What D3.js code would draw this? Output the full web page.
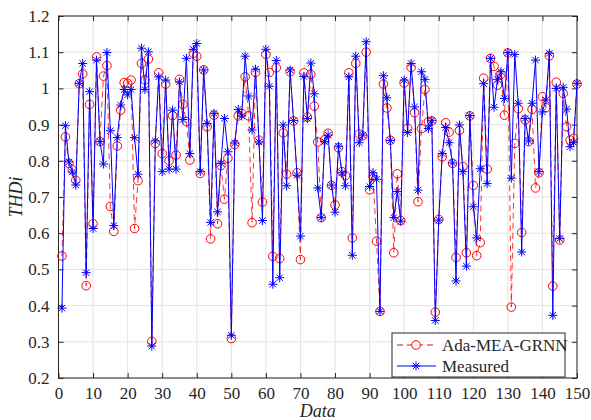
<!DOCTYPE html>
<html>
<head>
<meta charset="utf-8">
<script src="https://cdn.jsdelivr.net/npm/d3@7"></script>
<style>
    body { margin: 0; background: #fff; }
    text { font-family: "Liberation Serif", "Times New Roman", serif; fill: #262626; }
</style>
</head>
<body>
<svg id="chart" width="591" height="420"></svg>
<script>
//=================== DATA ====================================
var seriesNames = ["Ada-MEA-GRNN", "Measured"];

var predicted = [0.537, 0.866, 0.793, 0.775, 0.746, 1.013, 1.040, 0.455, 0.956, 0.626,
    1.087, 0.853, 1.034, 1.063, 0.674, 0.605, 0.841, 0.940, 1.016, 1.014,
    1.023, 0.613, 0.745, 1.069, 1.023, 1.081, 0.301, 0.848, 1.043, 0.820,
    1.012, 0.800, 0.925, 0.816, 1.025, 0.956, 0.908, 0.802, 1.097, 1.089,
    0.765, 1.051, 0.894, 0.584, 0.926, 0.626, 0.787, 0.694, 0.807, 0.309,
    0.845, 0.924, 0.931, 1.032, 0.924, 0.629, 1.044, 0.857, 0.686, 1.094,
    1.044, 0.536, 1.057, 0.530, 0.877, 0.763, 1.046, 0.910, 0.767, 0.527,
    1.043, 0.921, 1.039, 0.951, 0.852, 0.643, 0.858, 0.876, 0.732, 0.678,
    0.836, 0.770, 0.759, 1.043, 0.587, 1.069, 0.874, 0.869, 1.100, 0.720,
    0.758, 0.578, 0.384, 1.012, 0.946, 0.857, 0.546, 0.764, 0.635, 1.015,
    0.890, 1.058, 0.933, 0.687, 0.889, 0.997, 0.908, 0.910, 0.382, 0.638,
    0.811, 0.905, 0.879, 0.793, 0.533, 0.884, 0.784, 0.546, 0.924, 0.732,
    0.538, 0.574, 1.028, 0.777, 1.083, 1.061, 1.009, 1.039, 0.926, 1.098,
    0.396, 0.848, 0.944, 0.602, 0.913, 0.853, 0.942, 0.725, 0.767, 0.977,
    0.947, 1.090, 0.454, 1.017, 0.581, 0.986, 0.894, 0.857, 0.862, 1.012];

var measured = [0.393, 0.897, 0.797, 0.769, 0.733, 1.014, 1.069, 0.491, 0.991, 0.613,
    1.078, 0.853, 0.791, 1.099, 0.883, 0.621, 0.864, 0.954, 0.997, 0.982,
    0.997, 0.864, 0.763, 1.111, 0.997, 1.101, 0.288, 0.855, 1.032, 0.770,
    1.023, 0.777, 0.940, 0.777, 1.018, 0.914, 1.083, 0.820, 1.108, 1.124,
    0.770, 1.051, 0.903, 0.630, 0.931, 0.659, 0.793, 0.917, 0.825, 0.318,
    0.849, 0.942, 0.924, 1.089, 0.979, 0.885, 1.053, 0.852, 0.635, 1.108,
    1.006, 0.459, 1.077, 0.477, 0.899, 0.731, 1.051, 0.911, 0.760, 0.592,
    1.033, 0.917, 1.070, 0.985, 0.725, 0.643, 0.853, 0.871, 0.733, 0.658,
    0.840, 0.767, 0.731, 1.032, 0.539, 1.089, 0.850, 0.871, 1.129, 0.729,
    0.767, 0.749, 0.384, 1.035, 0.974, 0.856, 0.643, 0.715, 0.633, 1.023,
    0.878, 1.069, 0.949, 0.719, 1.046, 1.025, 0.889, 0.912, 0.359, 0.636,
    0.820, 0.892, 0.850, 0.794, 0.468, 0.899, 0.770, 0.509, 0.925, 0.673,
    0.587, 0.778, 1.013, 0.737, 1.083, 0.948, 1.025, 1.046, 0.972, 1.099,
    0.752, 1.094, 0.959, 0.548, 0.917, 0.855, 0.959, 1.078, 0.770, 0.935,
    0.968, 1.097, 0.373, 1.000, 0.585, 1.003, 0.943, 0.839, 0.851, 1.014];

var xTicks = [0, 10, 20, 30, 40, 50, 60, 70, 80, 90, 100, 110, 120, 130, 140, 150];
var yTicks = [0.2, 0.3, 0.4, 0.5, 0.6, 0.7, 0.8, 0.9, 1, 1.1, 1.2];

//=================== LAYOUT ====================================
var serif = "'Liberation Serif', 'Times New Roman', serif";
var margin = {left: 58.5, right: 14, top: 16, bottom: 42};
var width = 591, height = 420;
var innerW = width - margin.left - margin.right,
    innerH = height - margin.top - margin.bottom;

var svg = d3.select("#chart");
var grp = svg.append("g")
    .attr("transform", "translate(" + margin.left + "," + margin.top + ")");

var x = d3.scaleLinear().domain([0, 150]).range([0, innerW]);
var y = d3.scaleLinear().domain([0.2, 1.2]).range([innerH, 0]);

//grid
grp.append("g").selectAll("line.vg")
    .data(xTicks)
    .enter().append("line")
    .attr("x1", function (d) { return x(d); })
    .attr("x2", function (d) { return x(d); })
    .attr("y1", 0).attr("y2", innerH)
    .attr("stroke", "#e3e3e3").attr("stroke-width", 1);

grp.append("g").selectAll("line.hg")
    .data(yTicks)
    .enter().append("line")
    .attr("y1", function (d) { return y(d); })
    .attr("y2", function (d) { return y(d); })
    .attr("x1", 0).attr("x2", innerW)
    .attr("stroke", "#e3e3e3").attr("stroke-width", 1);

//axes (ticks inside, like matlab)
var xAxis = d3.axisBottom(x).tickValues(xTicks).tickSizeInner(-5).tickSizeOuter(0).tickPadding(9);
var yAxis = d3.axisLeft(y).tickValues(yTicks).tickSizeInner(-5).tickSizeOuter(0).tickPadding(9)
    .tickFormat(function (d) { return d3.format("")(+d.toFixed(1)); });

var gx = grp.append("g").attr("transform", "translate(0," + innerH + ")").call(xAxis);
var gy = grp.append("g").call(yAxis);
var gxTop = grp.append("g").call(d3.axisTop(x).tickValues(xTicks).tickSizeInner(-5).tickSizeOuter(0).tickFormat(""));
var gyRight = grp.append("g").attr("transform", "translate(" + innerW + ",0)")
    .call(d3.axisRight(y).tickValues(yTicks).tickSizeInner(-5).tickSizeOuter(0).tickFormat(""));

[gx, gy, gxTop, gyRight].forEach(function (g) {
    g.attr("font-family", serif).attr("font-size", 17);
    g.select(".domain").remove();
    g.selectAll("line").attr("stroke", "#262626");
    g.selectAll("text").attr("fill", "#262626");
});

grp.append("rect")
    .attr("width", innerW).attr("height", innerH)
    .attr("fill", "none").attr("stroke", "#262626").attr("stroke-width", 1);

//axis labels
svg.append("text")
    .attr("transform", "translate(22," + (margin.top + innerH / 2) + ") rotate(-90)")
    .attr("text-anchor", "middle")
    .attr("font-family", serif)
    .style("font-size", "18px").style("font-style", "italic")
    .text("THDi");

svg.append("text")
    .attr("x", margin.left + innerW / 2).attr("y", 417)
    .attr("text-anchor", "middle")
    .attr("font-family", serif)
    .style("font-size", "18px").style("font-style", "italic")
    .text("Data");

//=================== SERIES ====================================
var line = d3.line()
    .x(function (d, i) { return x(i + 1); })
    .y(function (d) { return y(d); });

var starPath = "M-4.5,0L4.5,0M0,-4.5L0,4.5M-3.2,-3.2L3.2,3.2M-3.2,3.2L3.2,-3.2";

//predicted: red dashed with circles
grp.append("path")
    .datum(predicted)
    .attr("d", line)
    .attr("fill", "none").attr("stroke", "#ff0000")
    .attr("stroke-width", 1).attr("stroke-dasharray", "6,4").attr("opacity", 0.8);

grp.append("g").selectAll("circle")
    .data(predicted)
    .enter().append("circle")
    .attr("cx", function (d, i) { return x(i + 1); })
    .attr("cy", function (d) { return y(d); })
    .attr("r", 4.3)
    .attr("fill", "none").attr("stroke", "#ff0000").attr("stroke-width", 1);

//measured: blue solid with stars
grp.append("path")
    .datum(measured)
    .attr("d", line)
    .attr("fill", "none").attr("stroke", "#0000ff").attr("stroke-width", 1);

grp.append("g").selectAll("path.star")
    .data(measured)
    .enter().append("path")
    .attr("class", "star")
    .attr("transform", function (d, i) { return "translate(" + x(i + 1) + "," + y(d) + ")"; })
    .attr("d", starPath)
    .attr("stroke", "#0000ff").attr("stroke-width", 1);

//=================== LEGEND ====================================
var legend = svg.append("g").attr("transform", "translate(392,333)");
legend.append("rect")
    .attr("width", 173).attr("height", 44)
    .attr("fill", "#fff").attr("stroke", "#262626").attr("stroke-width", 1);

var rows = legend.selectAll("g.row")
    .data(seriesNames)
    .enter().append("g")
    .attr("transform", function (d, i) { return "translate(0," + (12 + i * 21) + ")"; });

rows.append("line")
    .attr("x1", 5).attr("x2", 44).attr("y1", 0).attr("y2", 0)
    .attr("stroke", function (d, i) { return i == 0 ? "#ff0000" : "#0000ff"; })
    .attr("stroke-dasharray", function (d, i) { return i == 0 ? "6,4" : null; })
    .attr("stroke-width", 1);

rows.filter(function (d, i) { return i == 0; })
    .append("circle")
    .attr("cx", 24).attr("cy", 0).attr("r", 4.3)
    .attr("fill", "#fff").attr("stroke", "#ff0000");

rows.filter(function (d, i) { return i == 1; })
    .append("path")
    .attr("transform", "translate(24,0)")
    .attr("d", starPath)
    .attr("stroke", "#0000ff");

rows.append("text")
    .attr("x", 50).attr("y", 6)
    .attr("font-family", serif)
    .style("font-size", "17px")
    .text(function (d) { return d; });
</script>
</body>
</html>
